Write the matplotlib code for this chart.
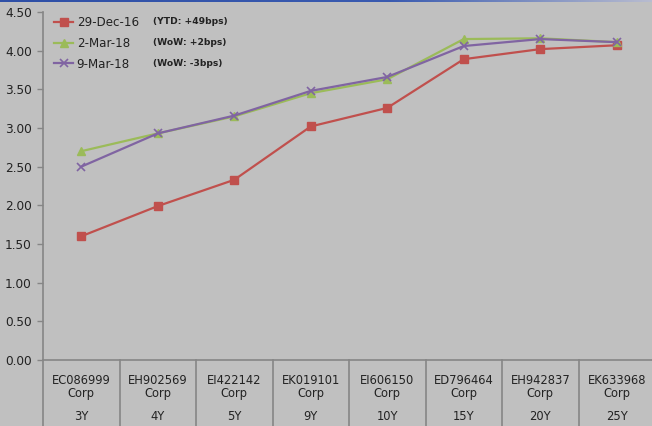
import numpy as np
import matplotlib
matplotlib.use("Agg")
import matplotlib.pyplot as plt
from matplotlib.colors import LinearSegmentedColormap
import matplotlib.transforms as mtransforms

# Bond identifiers and tenors along the curve
bonds = ["EC086999", "EH902569", "EI422142", "EK019101",
         "EI606150", "ED796464", "EH942837", "EK633968"]
tenors = ["3Y", "4Y", "5Y", "9Y", "10Y", "15Y", "20Y", "25Y"]

# Yields (%) on each date
dec16 = [1.60, 1.99, 2.33, 3.02, 3.26, 3.89, 4.02, 4.07]
mar02 = [2.70, 2.93, 3.15, 3.45, 3.63, 4.15, 4.16, 4.11]
mar09 = [2.50, 2.93, 3.16, 3.48, 3.66, 4.06, 4.15, 4.11]

series_labels = ["29-Dec-16", "2-Mar-18", "9-Mar-18"]
change_notes = ["(YTD: +49bps)", "(WoW: +2bps)", "(WoW: -3bps)"]
yticks = [0.0, 0.5, 1.0, 1.5, 2.0, 2.5, 3.0, 3.5, 4.0, 4.5]

BG = "#c0c0c0"
AXC = "#868686"
W, H = 652, 426

fig = plt.figure(figsize=(W / 100, H / 100), dpi=100, facecolor=BG)
ax = fig.add_axes([43 / W, 66 / H, (655 - 43) / W, (360 - 12) / H])
ax.set_facecolor(BG)

x = np.arange(len(bonds))
ax.plot(x, dec16, color="#c0504d", lw=1.6, marker="s", ms=5.5, label=series_labels[0])
ax.plot(x, mar02, color="#9bbb59", lw=1.6, marker="^", ms=6, label=series_labels[1])
ax.plot(x, mar09, color="#8064a2", lw=1.6, marker="x", ms=6, mew=1.2, label=series_labels[2])

ax.set_xlim(-0.5, len(bonds) - 0.5)
ax.set_ylim(0, 4.5)
ax.set_yticks(yticks)
ax.set_yticklabels([f"{v:.2f}" for v in yticks], fontsize=8.7, color="#222222")
ax.tick_params(axis="y", length=4, color=AXC, width=1, pad=4)
ax.set_xticks([])
for s in ["top", "right"]:
    ax.spines[s].set_visible(False)
for s in ["left", "bottom"]:
    ax.spines[s].set_color(AXC)
    ax.spines[s].set_linewidth(1.2)

# category table below the axis
trans = mtransforms.blended_transform_factory(ax.transData, ax.transAxes)
depth = 66 / (360 - 12)
for b in np.arange(-0.5, len(bonds) - 0.4, 1.0):
    ax.plot([b, b], [0, -depth], transform=trans, color=AXC, lw=1.2, clip_on=False)
for i, (b, t) in enumerate(zip(bonds, tenors)):
    ax.annotate(b, (i, 0), xycoords=trans, xytext=(0, -15), textcoords="offset points",
                ha="center", va="center", fontsize=8.3, color="#222222")
    ax.annotate("Corp", (i, 0), xycoords=trans, xytext=(0, -24), textcoords="offset points",
                ha="center", va="center", fontsize=8.3, color="#222222")
    ax.annotate(t, (i, 0), xycoords=trans, xytext=(0, -40.5), textcoords="offset points",
                ha="center", va="center", fontsize=8.3, color="#222222")

leg = ax.legend(loc="upper left", bbox_to_anchor=(54 / W, 1 - 16 / H),
                bbox_transform=fig.transFigure, frameon=False, fontsize=8.6,
                handlelength=1.6, handletextpad=0.3, labelspacing=0.65,
                borderaxespad=0, borderpad=0)
for txt in leg.get_texts():
    txt.set_color("#222222")

for k, note in enumerate(change_notes):
    fig.text(153 / W, 1 - (22 + 20.5 * k) / H, note, fontsize=6.6, fontweight="bold",
             color="#222222", ha="left", va="center")

# thin blue rule along the top edge
bar = fig.add_axes([0, 1 - 2.5 / H, 1, 2.5 / H])
cmap = LinearSegmentedColormap.from_list(
    "rule", [(0, "#2e4fa6"), (0.6, "#3a5bb0"), (1.0, "#b8bcd0")])
bar.imshow(np.linspace(0, 1, 256)[None, :], aspect="auto", cmap=cmap,
           extent=[0, 1, 0, 1])
bar.set_axis_off()

fig.savefig("out.png", dpi=100, facecolor=BG)
